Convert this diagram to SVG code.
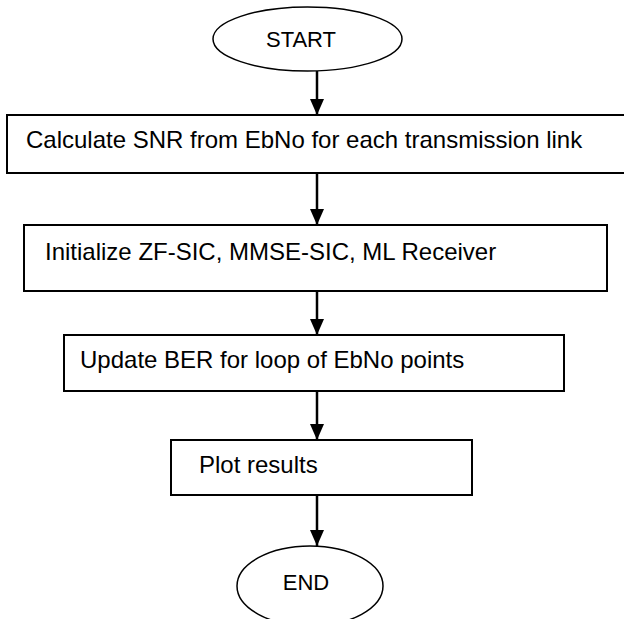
<svg xmlns="http://www.w3.org/2000/svg" width="624" height="619" viewBox="0 0 624 619">
<defs>
<style>
.box{fill:#fff;stroke:#000;stroke-width:2}
.ell{fill:#fff;stroke:#000;stroke-width:1.5}
.lbl{font-family:"Liberation Sans",Arial,sans-serif;font-size:24px;fill:#000}
.term{font-family:"Liberation Sans",Arial,sans-serif;font-size:22px;fill:#000;text-anchor:middle}
.conn{stroke:#000;stroke-width:2.5;fill:none}
</style>
<marker id="ah" markerUnits="userSpaceOnUse" markerWidth="16" markerHeight="16" viewBox="0 0 16 16" refX="16" refY="8" orient="auto">
<path d="M0,1 L16,8 L0,15 Z" fill="#000"/>
</marker>
</defs>
<rect width="624" height="619" fill="#fff"/>
<g id="connectors">
<line class="conn" x1="317" y1="71" x2="317" y2="115" marker-end="url(#ah)"/>
<line class="conn" x1="317" y1="173" x2="317" y2="225" marker-end="url(#ah)"/>
<line class="conn" x1="317" y1="291" x2="317" y2="335" marker-end="url(#ah)"/>
<line class="conn" x1="317" y1="391" x2="317" y2="440" marker-end="url(#ah)"/>
<line class="conn" x1="317" y1="495" x2="317" y2="546" marker-end="url(#ah)"/>
</g>
<g id="start">
<ellipse class="ell" cx="307.5" cy="39" rx="94.5" ry="32"/>
<text class="term" x="301" y="47">START</text>
</g>
<g id="calc">
<rect class="box" x="7" y="115" width="640" height="58"/>
<text class="lbl" x="26" y="148">Calculate SNR from EbNo for each transmission link</text>
</g>
<g id="init">
<rect class="box" x="24" y="225" width="583" height="66"/>
<text class="lbl" x="45" y="260">Initialize ZF-SIC, MMSE-SIC, ML Receiver</text>
</g>
<g id="update">
<rect class="box" x="64" y="335" width="500" height="56"/>
<text class="lbl" x="80" y="368">Update BER for loop of EbNo points</text>
</g>
<g id="plot">
<rect class="box" x="171" y="440" width="301" height="55"/>
<text class="lbl" x="199" y="473">Plot results</text>
</g>
<g id="end">
<ellipse class="ell" cx="310" cy="586" rx="73" ry="40"/>
<text class="term" x="306" y="590">END</text>
</g>
</svg>
